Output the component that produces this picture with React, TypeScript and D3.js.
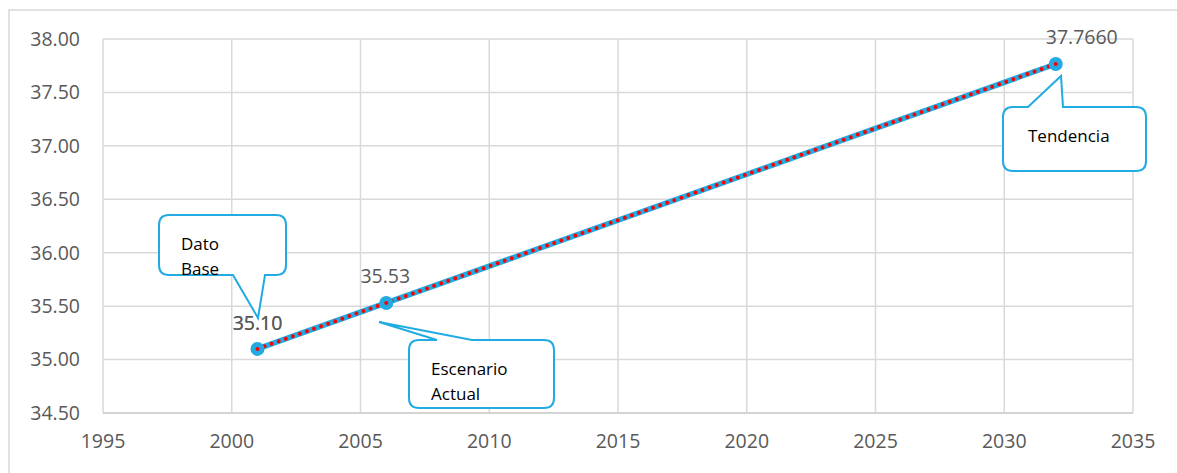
import React from "react";
import * as d3 from "d3";

const years = [2001, 2006, 2032];
const values = [35.1, 35.53, 37.766];
const valueLabels = ["35.10", "35.53", "37.7660"];
const xTicks = [1995, 2000, 2005, 2010, 2015, 2020, 2025, 2030, 2035];
const yTicks = [34.5, 35.0, 35.5, 36.0, 36.5, 37.0, 37.5, 38.0];
const calloutTexts = [["Dato", "Base"], ["Escenario", "Actual"], ["Tendencia"]];

const W = 1177;
const H = 473;
const BLUE = "#22ABE2";
const GRID = "#d9d9d9";
const TXT = "#595959";
const FONT = "'Open Sans', 'Noto Sans', sans-serif";

function calloutPath(x0: number, y0: number, x1: number, y1: number, r: number, side: "top" | "bottom", b0: number, b1: number, tx: number, ty: number) {
  let p = `M${x0 + r},${y0}`;
  if (side === "top") {
    p += ` L${b0},${y0} L${tx},${ty} L${b1},${y0}`;
  }
  p += ` L${x1 - r},${y0} Q${x1},${y0} ${x1},${y0 + r}`;
  p += ` L${x1},${y1 - r} Q${x1},${y1} ${x1 - r},${y1}`;
  if (side === "bottom") {
    p += ` L${b1},${y1} L${tx},${ty} L${b0},${y1}`;
  }
  p += ` L${x0 + r},${y1} Q${x0},${y1} ${x0},${y1 - r}`;
  p += ` L${x0},${y0 + r} Q${x0},${y0} ${x0 + r},${y0} Z`;
  return p;
}

export default function App() {
  const x = d3.scaleLinear().domain([1995, 2035]).range([103, 1133]);
  const y = d3.scaleLinear().domain([34.5, 38]).range([413, 39]);
  const pts: [number, number][] = years.map((yr, i) => [x(yr), y(values[i])]);
  const line = d3.line()(pts) || "";

  const labelPos = [
    [x(years[0]), y(values[0]) - 26],
    [x(years[1]) - 1, y(values[1]) - 27],
    [x(years[2]) + 26, y(values[2]) - 27],
  ];

  return (
    <svg width={W} height={H} style={{ position: "absolute", left: 0, top: 0, background: "#fff" }}>
      <rect x={9} y={10} width={W + 20} height={H + 20} fill="#fff" stroke={GRID} strokeWidth={1.5} />
      {yTicks.map((t) => (
        <line key={"h" + t} x1={103} x2={1133} y1={y(t)} y2={y(t)} stroke={GRID} strokeWidth={1.5} />
      ))}
      {xTicks.map((t) => (
        <line key={"v" + t} x1={x(t)} x2={x(t)} y1={39} y2={413} stroke={GRID} strokeWidth={1.5} />
      ))}
      <line x1={103} x2={1133} y1={413} y2={413} stroke="#cfcfcf" strokeWidth={1.5} />
      {yTicks.map((t) => (
        <text key={"yl" + t} x={80} y={y(t)} dy="0.35em" textAnchor="end" fontFamily={FONT} fontSize={19.5} fill={TXT}>
          {t.toFixed(2)}
        </text>
      ))}
      {xTicks.map((t) => (
        <text key={"xl" + t} x={x(t)} y={441} dy="0.35em" textAnchor="middle" fontFamily={FONT} fontSize={19.5} fill={TXT}>
          {t}
        </text>
      ))}
      <path d={line} fill="none" stroke={BLUE} strokeWidth={5.5} />
      <path d={line} fill="none" stroke="#ff0000" strokeWidth={4} strokeDasharray="0 7.5" strokeLinecap="round" />
      {pts.map((p, i) => (
        <circle key={"m" + i} cx={p[0]} cy={p[1]} r={7} fill={BLUE} />
      ))}
      {pts.map((p, i) => (
        <circle key={"md" + i} cx={p[0]} cy={p[1]} r={2} fill="#ff0000" />
      ))}
      {valueLabels.map((l, i) => (
        <text key={"vl" + i} x={labelPos[i][0]} y={labelPos[i][1]} dy="0.35em" textAnchor="middle" fontFamily={FONT} fontSize={19.5} fill={TXT}>
          {l}
        </text>
      ))}
      <path d={calloutPath(159, 215, 286, 275, 10, "bottom", 233, 265, 258, 318)} fill="#fff" stroke={BLUE} strokeWidth={2} />
      <path d={calloutPath(409, 340, 554, 408, 10, "top", 437, 472, 379, 322)} fill="#fff" stroke={BLUE} strokeWidth={2} />
      <path d={calloutPath(1003, 107, 1146, 171, 10, "top", 1028, 1063, 1061, 76)} fill="#fff" stroke={BLUE} strokeWidth={2} />
      <text x={labelPos[0][0]} y={labelPos[0][1]} dy="0.35em" textAnchor="middle" fontFamily={FONT} fontSize={19.5} fill={TXT}>
        {valueLabels[0]}
      </text>
      {calloutTexts[0].map((t, i) => (
        <text key={"c0" + i} x={181} y={250 + i * 25} fontFamily={FONT} fontSize={17} fill="#000">{t}</text>
      ))}
      {calloutTexts[1].map((t, i) => (
        <text key={"c1" + i} x={431} y={375 + i * 25} fontFamily={FONT} fontSize={17} fill="#000">{t}</text>
      ))}
      {calloutTexts[2].map((t, i) => (
        <text key={"c2" + i} x={1028} y={142 + i * 25} fontFamily={FONT} fontSize={17} fill="#000">{t}</text>
      ))}
    </svg>
  );
}
